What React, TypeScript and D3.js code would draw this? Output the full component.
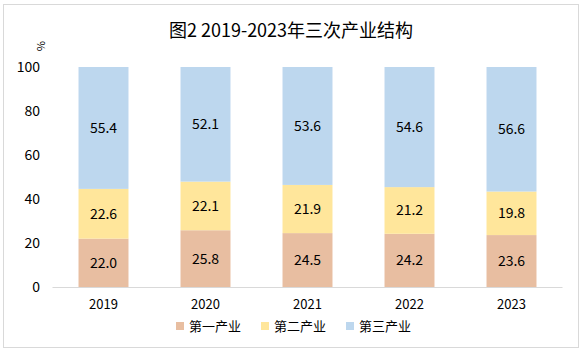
import React from 'react';
import * as d3 from 'd3';

const years = ['2019', '2020', '2021', '2022', '2023'];
const primary = [22.0, 25.8, 24.5, 24.2, 23.6];
const secondary = [22.6, 22.1, 21.9, 21.2, 19.8];
const tertiary = [55.4, 52.1, 53.6, 54.6, 56.6];
const seriesNames = ['第一产业', '第二产业', '第三产业'];
const colors = ['#E8BEA1', '#FFE69B', '#BDD7EE'];
const yTicks = [0, 20, 40, 60, 80, 100];

const W = 583;
const H = 354;
const font = '"Noto Sans CJK SC", "DejaVu Sans", sans-serif';

const App = () => {
    const x = d3.scaleBand().domain(years).range([52.5, 562.5]).paddingInner(0.51).paddingOuter(0.255);
    const y = d3.scaleLinear().domain([0, 100]).range([287, 67]);

    const rows = years.map((yr, i) => ({ year: yr, p: primary[i], s: secondary[i], t: tertiary[i] }));
    const stack = d3.stack<any>().keys(['p', 's', 't'])(rows);

    return (
        <svg width={W} height={H} style={{ position: 'absolute', left: 0, top: 0, fontFamily: font }}>
            <rect x={0} y={0} width={W} height={H} fill="#fff" />
            <rect x={3.5} y={4.5} width={575} height={343} fill="none" stroke="#D9D9D9" />
            <text x={291} y={37} textAnchor="middle" fontSize={18} fill="#000">图2 2019-2023年三次产业结构</text>
            <text transform="translate(37,46) rotate(90)" textAnchor="middle" fontSize={11} fill="#000">%</text>
            {yTicks.map(t => (
                <text key={t} x={40} y={y(t) + 5} textAnchor="end" fontSize={14} fill="#000">{t}</text>
            ))}
            {stack.map((layer, li) => (
                <g key={li}>
                    {layer.map((d, i) => (
                        <g key={i}>
                            <rect x={x(years[i])} y={y(d[1])} width={x.bandwidth()} height={y(d[0]) - y(d[1])} fill={colors[li]} />
                            <text x={(x(years[i]) as number) + x.bandwidth() / 2} y={y((d[0] + d[1]) / 2) + 5}
                                textAnchor="middle" fontSize={14} fill="#000">{(d[1] - d[0]).toFixed(1)}</text>
                        </g>
                    ))}
                </g>
            ))}
            <line x1={52.5} x2={562.5} y1={287.5} y2={287.5} stroke="#D9D9D9" />
            {years.map(yr => (
                <text key={yr} x={(x(yr) as number) + x.bandwidth() / 2} y={309} textAnchor="middle" fontSize={13} fill="#000">{yr}</text>
            ))}
            {seriesNames.map((n, i) => (
                <g key={n} transform={`translate(${176 + i * 85},322)`}>
                    <rect x={0} y={0} width={8} height={8} fill={colors[i]} />
                    <text x={13} y={9} fontSize={13} fill="#000">{n}</text>
                </g>
            ))}
        </svg>
    );
};

export default App;
